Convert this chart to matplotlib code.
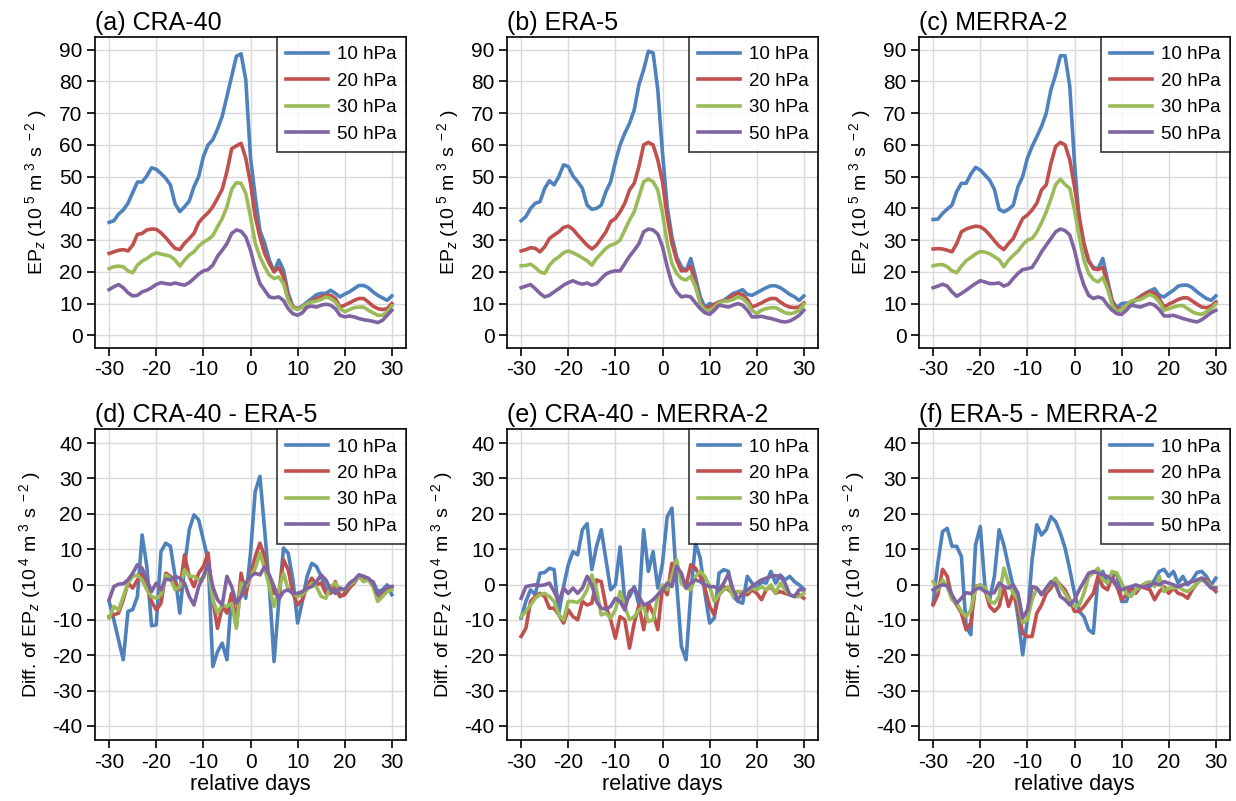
import numpy as np
import matplotlib.pyplot as plt

plt.rcParams.update({
    'font.family': 'Liberation Sans',
    'mathtext.fontset': 'custom',
    'mathtext.rm': 'Liberation Sans',
    'mathtext.it': 'Liberation Sans:italic',
    'axes.unicode_minus': False,
    'xtick.labelsize': 15,
    'ytick.labelsize': 15,
})

days = np.arange(-30, 31)
levels = ['10 hPa', '20 hPa', '30 hPa', '50 hPa']
colors = ['#4f81bd', '#c0504d', '#9bbb59', '#8064a2']

# EP_z (10^5 m^3 s^-2), CRA-40
cra_10 = [35.6, 36.1, 38.2, 39.5, 41.6, 45.0, 48.3, 48.3, 50.2, 52.8, 52.3, 51.0, 49.5, 47.4, 41.4, 39.0,
          40.5, 42.3, 46.8, 50.0, 56.3, 60.0, 61.6, 65.0, 69.0, 75.3, 81.6, 87.9, 88.7, 80.5, 56.0,
          43.7, 33.0, 29.0, 23.7, 20.0, 23.7, 20.5, 13.2, 9.0, 8.4, 9.2, 10.5, 11.6, 12.8, 13.2,
          13.2, 14.2, 13.2, 12.1, 13.0, 13.7, 14.7, 15.7, 15.7, 15.0, 13.7, 12.6, 11.8, 11.0, 12.4]
cra_20 = [25.8, 26.3, 26.8, 27.0, 26.6, 28.4, 31.8, 32.1, 33.2, 33.5, 33.4, 32.3, 30.8, 29.0, 27.4, 27.0,
          29.0, 30.5, 32.1, 35.5, 37.2, 38.6, 40.5, 43.2, 46.0, 51.6, 58.8, 59.7, 60.5, 55.8, 47.9,
          37.4, 31.0, 25.8, 22.6, 20.0, 21.4, 18.4, 12.1, 8.9, 8.4, 8.9, 10.0, 10.8, 11.6, 12.1,
          12.6, 12.6, 11.6, 8.9, 9.5, 10.2, 11.0, 11.6, 11.6, 10.5, 9.2, 8.4, 8.1, 8.4, 10.0]
cra_30 = [21.0, 21.6, 21.8, 21.6, 20.3, 19.7, 22.1, 23.4, 24.2, 25.3, 26.0, 25.6, 25.3, 24.9, 23.7, 21.8,
          23.7, 25.3, 26.3, 28.1, 29.3, 30.2, 31.4, 34.2, 36.8, 40.5, 46.0, 48.1, 47.9, 44.7, 37.4,
          29.0, 24.7, 21.6, 19.0, 17.9, 18.4, 16.3, 11.0, 8.7, 8.1, 8.9, 10.0, 10.5, 10.8, 11.3,
          12.1, 11.6, 10.5, 8.4, 7.4, 8.1, 8.7, 8.9, 8.9, 7.9, 7.1, 6.3, 6.3, 7.4, 9.2]
cra_50 = [14.4, 15.3, 16.0, 15.0, 13.4, 12.4, 12.6, 13.7, 14.2, 15.0, 16.0, 16.6, 16.3, 16.1, 16.5, 16.1,
          15.8, 16.6, 17.9, 19.3, 20.3, 20.7, 22.1, 24.9, 26.8, 28.9, 32.1, 33.2, 32.8, 31.0, 26.8,
          21.0, 16.3, 14.2, 12.1, 11.8, 12.1, 11.0, 8.4, 6.8, 6.3, 7.1, 8.9, 9.2, 8.9, 9.5,
          9.8, 9.5, 8.4, 6.3, 5.8, 6.1, 5.8, 5.3, 4.9, 4.7, 4.4, 4.0, 4.7, 6.3, 7.9]

# EP_z (10^5 m^3 s^-2), ERA-5
era_10 = [36.1, 37.4, 40.0, 41.6, 42.1, 46.3, 48.7, 47.4, 50.0, 53.7, 53.2, 50.2, 48.4, 46.3, 41.0, 39.7,
          40.0, 41.0, 45.3, 48.4, 54.7, 60.0, 63.7, 66.8, 71.0, 79.0, 83.7, 89.5, 89.0, 77.4, 57.4,
          40.5, 31.0, 24.7, 21.6, 20.3, 24.2, 18.4, 12.1, 8.9, 10.0, 9.5, 10.5, 11.0, 12.1, 13.2,
          13.7, 14.4, 12.9, 12.6, 13.4, 14.2, 15.0, 15.6, 15.6, 15.0, 14.0, 12.9, 12.1, 11.0, 12.4]
era_20 = [26.6, 27.0, 27.6, 27.4, 26.3, 27.9, 30.5, 31.6, 32.6, 34.0, 34.4, 33.4, 31.6, 30.0, 28.4, 27.2,
          28.4, 30.5, 32.6, 35.8, 36.8, 38.9, 41.6, 45.8, 47.9, 53.2, 60.0, 60.8, 60.0, 55.3, 48.4,
          37.4, 29.0, 23.7, 20.3, 20.5, 21.6, 16.3, 10.5, 8.4, 8.9, 9.8, 10.5, 10.8, 11.6, 12.6,
          13.2, 12.8, 11.3, 8.9, 9.5, 10.2, 11.0, 11.6, 11.6, 10.5, 9.5, 8.9, 8.7, 8.9, 10.2]
era_30 = [21.9, 22.0, 22.4, 21.4, 20.0, 19.5, 22.1, 23.7, 24.7, 26.0, 26.6, 26.0, 25.3, 24.4, 23.5, 22.1,
          24.2, 25.8, 27.4, 28.4, 28.9, 30.0, 33.2, 36.3, 38.9, 43.7, 48.4, 49.2, 48.4, 45.8, 38.4,
          29.0, 22.6, 19.5, 17.9, 17.4, 18.6, 15.3, 10.0, 7.9, 7.9, 8.9, 10.2, 10.8, 10.8, 11.3,
          12.1, 11.6, 10.2, 7.9, 6.8, 7.9, 8.4, 8.7, 8.7, 7.9, 7.1, 6.8, 7.1, 7.9, 9.8]
era_50 = [15.0, 15.5, 16.0, 14.7, 13.2, 12.1, 12.6, 13.7, 14.7, 15.8, 16.6, 17.2, 16.5, 16.1, 16.5, 15.8,
          16.3, 17.9, 19.3, 20.0, 20.3, 20.3, 22.6, 24.9, 26.8, 28.9, 32.6, 33.5, 33.2, 31.9, 27.9,
          21.6, 16.3, 13.7, 12.1, 12.4, 12.1, 10.2, 8.4, 7.1, 6.6, 7.9, 9.5, 9.2, 8.9, 9.5,
          10.0, 9.5, 7.9, 5.8, 5.8, 6.0, 5.6, 5.3, 4.9, 4.4, 4.2, 4.5, 5.3, 6.3, 7.9]

# EP_z (10^5 m^3 s^-2), MERRA-2
mer_10 = [36.5, 36.6, 38.4, 39.8, 41.0, 45.3, 47.9, 47.9, 50.8, 52.9, 52.1, 50.5, 48.9, 46.0, 39.7, 38.9,
          39.7, 41.0, 46.8, 50.0, 55.8, 59.5, 62.6, 65.8, 70.0, 77.4, 82.1, 88.1, 88.1, 78.4, 54.2,
          36.3, 27.9, 23.2, 21.4, 21.0, 24.2, 17.4, 11.0, 8.7, 10.0, 10.2, 10.0, 11.0, 12.3, 13.2,
          14.0, 14.7, 12.6, 12.1, 13.2, 14.2, 15.5, 15.8, 15.8, 15.0, 13.7, 12.6, 11.6, 11.0, 12.4]
mer_20 = [27.2, 27.3, 27.2, 26.8, 26.3, 28.9, 32.6, 33.5, 34.0, 34.4, 34.2, 33.2, 31.6, 29.8, 28.1, 27.0,
          28.9, 30.5, 33.7, 36.8, 37.9, 39.5, 41.6, 45.8, 47.4, 54.2, 59.5, 60.8, 60.0, 55.3, 46.8,
          37.4, 29.0, 23.7, 21.0, 20.7, 21.4, 16.3, 10.5, 8.1, 8.4, 9.5, 10.5, 11.3, 12.1, 13.2,
          13.7, 13.2, 11.6, 8.9, 9.8, 10.5, 11.3, 11.8, 11.8, 10.8, 9.8, 8.9, 8.7, 9.2, 10.5]
mer_30 = [21.9, 22.2, 22.3, 21.6, 20.3, 19.7, 21.8, 23.5, 24.5, 25.6, 26.4, 26.2, 25.7, 24.8, 23.8, 21.6,
          23.7, 25.2, 26.5, 28.5, 30.0, 30.5, 32.5, 35.5, 38.8, 43.0, 47.5, 49.2, 47.5, 46.3, 39.5,
          31.0, 23.7, 19.5, 17.6, 16.8, 18.2, 14.7, 9.5, 7.4, 8.1, 9.5, 10.8, 11.0, 11.3, 12.1,
          12.9, 12.1, 10.5, 7.9, 8.4, 8.9, 9.3, 9.4, 8.4, 7.4, 6.8, 6.6, 7.4, 8.4, 9.8]
mer_50 = [15.0, 15.5, 16.1, 15.5, 13.7, 12.3, 13.2, 14.2, 15.3, 16.3, 17.2, 16.8, 16.3, 16.3, 16.5, 15.5,
          16.1, 17.9, 19.5, 20.7, 21.0, 21.4, 23.7, 26.3, 28.4, 30.5, 32.6, 33.5, 33.0, 31.6, 26.8,
          20.5, 15.8, 12.6, 11.6, 12.1, 11.6, 9.5, 7.9, 6.8, 6.6, 7.9, 9.5, 9.2, 8.9, 9.5,
          10.0, 9.5, 8.1, 6.1, 6.1, 6.3, 5.8, 5.3, 4.9, 4.5, 4.2, 4.9, 6.0, 7.1, 7.9]

# differences (10^4 m^3 s^-2), CRA-40 - ERA-5
d_ce_10 = [-4.8, -10.0, -15.7, -21.3, -7.6, -7.1, -3.4, 14.0, 5.1, -11.7, -11.4, 9.3, 11.7, 10.8, 2.3, -8.1,
           5.1, 15.5, 19.7, 18.3, 12.6, 7.0, -23.2, -19.0, -16.6, -21.3, -2.5, -11.9, 0.4, -3.9, 8.9,
           26.3, 30.6, 15.5, -0.6, -21.8, -4.8, 10.3, 8.9, 1.3, -10.9, -4.8, 2.3, 6.0, 5.1, 2.3,
           -1.5, -1.0, -1.5, -3.4, -2.5, -0.6, 0.8, 2.7, 2.3, 1.3, 0.8, -2.0, -1.5, -0.1, -2.9]
d_ce_20 = [-9.1, -8.6, -8.1, -4.3, 0.4, -1.0, 1.3, 3.2, -0.6, -4.8, -7.2, -5.3, 3.2, 2.3, 0.4, -1.5,
           8.4, 2.3, -0.6, 3.2, 5.1, 8.9, -4.3, -12.4, -6.2, -8.1, -2.5, -10.9, 3.2, -2.5, 2.7,
           7.9, 11.7, 7.9, 0.4, -2.5, -2.5, 7.0, 4.2, -2.5, -5.8, -4.3, -0.6, 1.8, -0.1, 0.4,
           -2.5, -2.5, 0.8, -3.4, -2.9, -1.0, 0.4, 2.3, 1.8, 1.3, 0.4, -3.9, -2.5, -1.0, -0.6]
d_ce_30 = [-9.5, -6.2, -7.2, -3.4, 0.4, 2.3, 2.7, 1.3, -1.5, -3.4, -3.9, -2.9, 2.7, 1.8, -1.5, -0.6,
           4.2, 2.3, 2.3, 1.3, 1.8, 5.1, -4.3, -8.1, -5.8, -6.2, -5.3, -12.4, 0.4, -0.6, 2.3,
           4.6, 8.9, 4.6, -0.6, -6.2, -1.5, 3.2, -1.5, -2.5, -3.4, -2.9, -1.5, 0.4, -0.6, -3.4,
           -3.9, -0.6, 0.4, -1.5, -1.5, -0.1, 0.8, 2.3, 0.8, 1.3, -0.6, -4.8, -3.4, -2.0, -1.5]
d_ce_50 = [-4.3, -0.6, 0.1, 0.2, 1.3, 3.2, 5.6, 4.6, 1.3, -2.0, 0.4, -1.5, 1.5, 1.3, 2.3, 1.8,
           0.4, -3.4, -5.8, -0.6, 2.3, 6.0, -0.6, -4.3, -5.8, 2.3, -0.6, -5.3, -3.4, 0.4, 2.3,
           3.2, 2.7, 5.1, 2.7, -0.6, -4.3, -2.0, -1.5, -2.5, -2.5, -2.0, -1.0, -0.6, 0.8, 2.7,
           1.3, -1.5, -2.5, -1.0, -1.5, 0.4, 1.3, 2.7, 2.3, 1.8, 0.4, -2.9, -2.0, -0.6, -0.6]

# differences (10^4 m^3 s^-2), CRA-40 - MERRA-2
d_cm_10 = [-9.5, -4.8, -1.5, -2.9, 3.2, 3.4, 4.6, 4.2, -8.1, -0.6, 5.6, 9.3, 8.4, 15.5, 17.2, 4.2,
           10.8, 15.5, 7.0, -1.5, -0.1, 10.6, -4.8, -3.4, -0.6, -5.8, 15.5, 3.7, 9.3, -1.0, 6.0,
           19.2, 21.6, 0.4, -17.5, -21.3, -2.5, 11.7, 7.5, -2.5, -10.9, -9.5, 3.2, 4.2, 3.7, -3.4,
           -4.8, -5.3, 2.3, 0.4, -1.5, 0.8, 0.4, 3.7, 0.4, 2.7, 1.3, 2.3, 0.8, -0.1, -1.3]
d_cm_20 = [-14.7, -12.4, -4.8, -3.4, -2.5, -3.4, -6.7, -6.7, -8.6, -10.9, -7.2, -9.1, -10.0, -4.8, -5.8, -5.3,
           1.3, 0.8, -6.2, -10.0, -15.2, -9.1, -10.0, -18.0, -10.9, -5.8, -12.8, -5.3, -8.1, -12.8, -0.6,
           -2.9, 6.0, 4.2, 2.3, -0.6, 5.6, 4.6, 2.3, -1.0, -6.2, -8.6, -2.9, -0.6, -1.5, -2.5,
           -2.0, -2.5, -2.9, -1.5, -2.5, -4.3, -1.5, -0.6, -2.5, -2.0, -2.5, -2.9, -3.4, -2.9, -3.9]
d_cm_30 = [-9.1, -7.6, -5.8, -3.9, -2.9, -2.5, -3.4, -4.8, -8.6, -10.0, -4.8, -4.8, -5.1, -3.9, -1.5, 2.7,
           -1.5, -8.6, -8.1, -9.5, -7.2, -2.0, -6.2, -10.0, -9.1, -7.2, -6.2, -10.5, -10.0, -3.4, -0.1,
           -1.5, 2.3, 7.0, 0.4, -1.0, -1.5, 2.3, 3.7, 2.3, -0.6, -4.8, -2.9, -1.5, -0.6, -3.4,
           -2.0, -2.0, -2.0, -1.0, -1.5, -0.6, -1.5, -0.1, -2.5, 0.4, -1.5, -2.9, -3.4, -3.4, -2.5]
d_cm_50 = [-3.9, -0.6, -0.3, -0.1, -0.3, -0.1, 0.4, -2.0, -4.8, -1.0, -2.5, -1.0, -2.5, -1.0, 2.3, -0.1,
           -4.8, -6.7, -7.0, -6.2, -3.9, -4.8, -7.2, -2.0, -1.0, -3.4, -5.8, -5.3, -4.3, -2.9, -1.5,
           0.4, -0.6, 5.1, 3.2, -1.0, 0.4, 1.3, 0.8, -0.1, -0.6, -0.6, -1.5, 0.4, 3.0, -1.5,
           -4.3, -2.5, -1.5, -0.6, 0.4, 1.3, 1.8, 2.3, 2.5, 2.3, 0.4, -2.9, -3.4, -1.5, -1.5]

# differences (10^4 m^3 s^-2), ERA-5 - MERRA-2
d_em_10 = [-5.3, 6.0, 15.0, 15.9, 10.8, 10.8, 7.9, -11.9, -14.2, 11.2, 16.4, -0.6, -4.3, 2.3, 15.5, 11.2,
           5.1, -0.6, -9.1, -19.9, -10.0, 7.0, 16.9, 14.0, 15.5, 19.2, 17.8, 14.5, 10.3, 4.2, -2.5,
           -7.6, -9.1, -12.8, -13.8, 2.3, 3.7, 0.4, 2.3, 3.2, -4.8, -4.8, -1.0, -1.5, -0.6, -0.1,
           -0.6, 1.3, 3.7, 4.3, 2.3, 3.7, 0.4, 2.3, -0.1, 1.3, 3.4, 3.7, 2.3, -0.1, 1.8]
d_em_20 = [-5.8, -2.9, 4.3, 2.3, -3.9, -5.8, -8.1, -12.8, -10.9, -0.6, -0.1, -1.5, -6.2, -7.6, -6.2, -0.6,
           -6.2, -2.5, -6.7, -13.8, -14.7, -14.7, -8.1, -5.8, -2.5, -1.0, 1.3, -0.1, -1.5, -4.3, -7.6,
           -7.6, -6.2, -4.3, -2.5, 2.3, -0.6, -1.5, 2.3, -0.6, -4.3, -2.9, -0.6, -2.5, -0.6, -1.0,
           -1.5, -4.3, -2.0, -0.6, -2.5, -1.0, -2.5, -2.9, -3.9, -1.5, 0.4, 1.8, 1.3, -0.6, -2.0]
d_em_30 = [0.8, -1.5, 1.3, -0.6, -4.3, -5.3, -7.6, -9.1, -7.2, -1.0, -0.1, -1.0, -4.8, -5.3, -3.4, 4.6,
           0.4, -2.5, -4.3, -10.9, -10.0, -4.3, -1.0, -2.5, -1.5, 0.4, 1.8, -0.6, -2.5, -4.8, -6.2,
           -5.8, -2.5, 2.3, 3.2, 4.6, 1.3, 0.4, 3.7, 3.2, 0.4, -2.5, -3.4, -1.5, -0.6, 0.4,
           0.8, -0.6, 2.3, -2.0, -1.0, -1.0, -0.6, -1.5, -2.0, -1.0, 0.4, 1.3, 0.8, -0.6, -1.0]
d_em_50 = [-1.5, -0.6, -0.1, -0.3, -2.9, -5.3, -3.9, -2.3, -2.6, -1.3, -1.0, -2.0, -2.5, -2.3, 0.4, -0.6,
           -1.0, -0.1, -2.5, -9.5, -7.2, -0.6, -1.0, -2.9, -1.0, 0.8, -0.1, -3.4, -4.3, -5.8, -4.3,
           -1.5, 0.8, 3.2, 3.7, 3.2, 2.7, 2.3, 1.3, -0.6, -1.5, -1.0, -0.6, -0.1, -0.6, -0.6,
           -0.1, 0.4, -0.1, 0.8, 0.4, -0.1, -0.6, -0.1, 0.4, 0.8, 1.3, 1.8, 0.4, -1.0, -1.0]

panels = [
    ('(a) CRA-40', [cra_10, cra_20, cra_30, cra_50]),
    ('(b) ERA-5', [era_10, era_20, era_30, era_50]),
    ('(c) MERRA-2', [mer_10, mer_20, mer_30, mer_50]),
    ('(d) CRA-40 - ERA-5', [d_ce_10, d_ce_20, d_ce_30, d_ce_50]),
    ('(e) CRA-40 - MERRA-2', [d_cm_10, d_cm_20, d_cm_30, d_cm_50]),
    ('(f) ERA-5 - MERRA-2', [d_em_10, d_em_20, d_em_30, d_em_50]),
]

fig = plt.figure(figsize=(12.36, 8.01), dpi=100)
lefts = [95, 507, 919]
bottoms = [348, 740]
W, H = 1236, 801

units = r' (10$^{\ %d}$ m$^{\ 3}$ s$^{\ -2}$ )'

for i, (title, series) in enumerate(panels):
    row, col = divmod(i, 3)
    ax = fig.add_axes([lefts[col] / W, 1 - bottoms[row] / H, 311 / W, 311 / H])
    for vals, lab, c in zip(series, levels, colors):
        ax.plot(days, vals, color=c, lw=2.6, label=lab)
    ax.set_xlim(-33, 33)
    ax.set_xticks(np.arange(-30, 31, 10))
    if row == 0:
        ax.set_ylim(-4, 94)
        ax.set_yticks(np.arange(0, 91, 10))
        ax.set_ylabel('EP$_z$' + units % 5, fontsize=14, labelpad=7)
    else:
        ax.set_ylim(-44, 44)
        ax.set_yticks(np.arange(-40, 41, 10))
        ax.set_ylabel('Diff. of EP$_z$' + units % 4, fontsize=14, labelpad=7)
        ax.set_xlabel('relative days', fontsize=15.5, labelpad=2)
    ax.grid(True, color='#d9d9d9', lw=1.0)
    ax.set_axisbelow(True)
    ax.tick_params(direction='out', length=6, width=1.2, color='black', pad=3)
    for sp in ax.spines.values():
        sp.set_linewidth(1.2)
    ax.set_title(title, loc='left', fontsize=18, pad=5)
    leg = ax.legend(loc='upper right', fontsize=13.5, frameon=True, fancybox=False,
                    edgecolor='black', borderaxespad=0, handlelength=2.2,
                    handletextpad=0.5, labelspacing=0.5, borderpad=0.5)
    leg.get_frame().set_linewidth(1.2)

plt.savefig('out.png', dpi=100)
